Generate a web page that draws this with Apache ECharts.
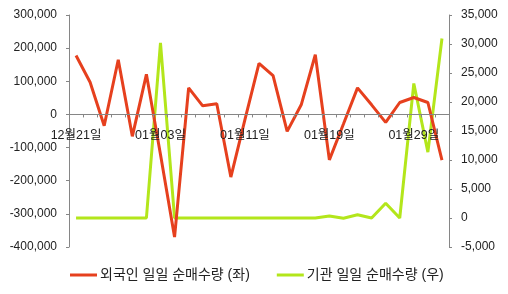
<!DOCTYPE html>
<html><head><meta charset="utf-8">
<script src="https://cdn.jsdelivr.net/npm/echarts@6/dist/echarts.min.js"></script>
<style>html,body{margin:0;padding:0;background:#fff}#c{width:508px;height:294px}</style>
</head><body><div id="c"></div>
<script>
var categories = ['12월21일','12월22일','12월23일','12월24일','12월28일','12월30일','01월03일','01월04일','01월05일','01월06일','01월07일','01월10일','01월11일','01월12일','01월13일','01월14일','01월17일','01월18일','01월19일','01월20일','01월21일','01월24일','01월25일','01월26일','01월29일','02월01일','02월02일'];
var foreignNet = [178000,97000,-34000,165000,-66000,121000,-121000,-370000,80000,26000,32000,-189000,-16000,154000,117000,-51000,29000,180000,-137000,-29000,80000,29000,-24000,36000,51000,36000,-138000];
var instNet = [0,0,0,0,0,0,30200,0,0,0,0,0,0,0,0,0,0,0,350,-50,560,0,2530,0,23200,11350,30950];
var leftTicks = {min:-400000,max:300000,step:100000};
var rightTicks = {min:-5000,max:35000,step:5000};
var seriesNames = ['외국인 일일 순매수량 (좌)','기관 일일 순매수량 (우)'];

var font = '"Liberation Sans", "Noto Sans CJK KR", sans-serif';
var fmt = function(v){ return v.toLocaleString('en-US'); };
var gridTop = 15, gridBottom = 47, H = 294;
var plotH = H - gridTop - gridBottom;
var zeroOffset = -plotH * (0 - leftTicks.min) / (leftTicks.max - leftTicks.min);
var chart = echarts.init(document.getElementById('c'), null, {renderer:'canvas'});
chart.setOption({
  animation:false,
  grid:{left:69,right:59,top:gridTop,bottom:gridBottom},
  legend:{bottom:12,left:70,padding:0,itemGap:27,itemWidth:27,itemHeight:3,icon:'rect',
    textStyle:{fontFamily:font,fontSize:14,color:'#222',padding:[0,0,0,-2]},
    data:seriesNames},
  xAxis:{type:'category',data:categories,boundaryGap:true,offset:zeroOffset,z:10,
    axisLine:{onZero:false,lineStyle:{color:'#868686',width:1}},
    axisTick:{show:true,interval:0,length:3,lineStyle:{color:'#868686'}},
    axisLabel:{interval:5,fontFamily:font,fontSize:12.5,color:'#222',margin:15}},
  yAxis:[
    {type:'value',min:leftTicks.min,max:leftTicks.max,interval:leftTicks.step,
     axisLine:{show:true,lineStyle:{color:'#868686'}},axisTick:{show:true,length:3,lineStyle:{color:'#868686'}},
     splitLine:{show:false},axisLabel:{formatter:fmt,fontFamily:font,fontSize:12,color:'#222',margin:12}},
    {type:'value',min:rightTicks.min,max:rightTicks.max,interval:rightTicks.step,position:'right',
     axisLine:{show:true,lineStyle:{color:'#868686'}},axisTick:{show:true,length:3,lineStyle:{color:'#868686'}},
     splitLine:{show:false},axisLabel:{formatter:fmt,fontFamily:font,fontSize:12,color:'#222',margin:12}}
  ],
  series:[
    {name:seriesNames[0],type:'line',yAxisIndex:0,data:foreignNet,symbol:'none',
     lineStyle:{color:'#e6401e',width:3},itemStyle:{color:'#e6401e'},z:3},
    {name:seriesNames[1],type:'line',yAxisIndex:1,data:instNet,symbol:'none',
     lineStyle:{color:'#b3e61b',width:3},itemStyle:{color:'#b3e61b'},z:2}
  ]
});
</script></body></html>
